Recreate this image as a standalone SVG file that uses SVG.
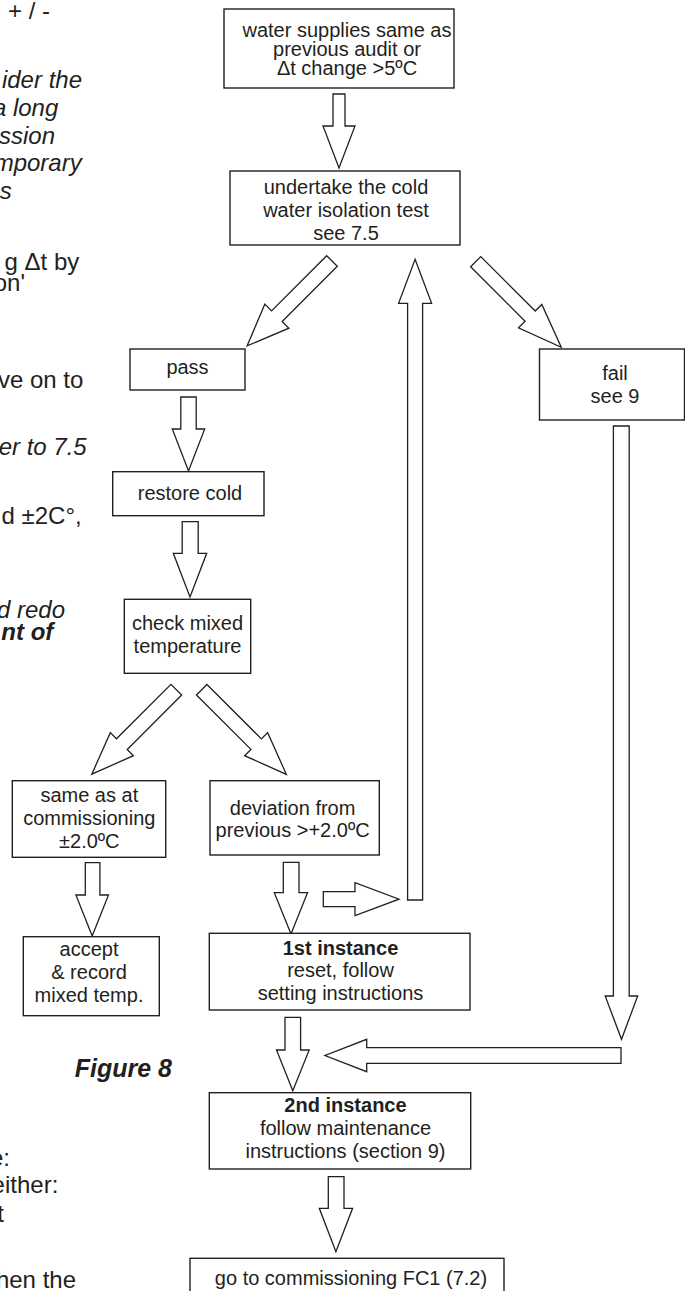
<svg xmlns="http://www.w3.org/2000/svg" width="685" height="1291" viewBox="0 0 685 1291">
<style>
.bx{fill:#fff;stroke:#231f20;stroke-width:1.4}
.ar{fill:#fff;stroke:#231f20;stroke-width:1.3}
text{font-family:"Liberation Sans",Arial,sans-serif;fill:#231f20}
.t{font-size:20px;text-anchor:middle}
.b{font-weight:bold}
.side{font-size:24px;text-anchor:end}
.i{font-style:italic}
.fig{font-size:25px;font-weight:bold;font-style:italic;text-anchor:middle}
</style>
<rect width="685" height="1291" fill="#fff"/>
<g id="side-text">
<text class="side" x="50" y="18.5">+ / -</text>
<text class="side i" x="82" y="87.5">ider the</text>
<text class="side i" x="58.3" y="115.5">a long</text>
<text class="side i" x="55" y="143.5">ssion</text>
<text class="side i" x="81.7" y="171">mporary</text>
<text class="side i" x="11.7" y="199">s</text>
<text class="side" x="79.3" y="270">g Δt by</text>
<text class="side" x="25" y="291">on'</text>
<text class="side" x="83.3" y="388.3">ve on to</text>
<text class="side i" x="86.7" y="455">er to 7.5</text>
<text class="side" x="81.7" y="524">d ±2C°,</text>
<text class="side i" x="65" y="618">d redo</text>
<text class="side i b" x="53.3" y="639.5">nt of</text>
<text class="side" x="10" y="1165.7">e:</text>
<text class="side" x="58.3" y="1193.3">either:</text>
<text class="side" x="4" y="1221.7">t</text>
<text class="side" x="76" y="1288.3">hen the</text>
<text class="fig" x="123.3" y="1077.3">Figure 8</text>
</g>
<g id="connectors">
<polygon class="ar" points="333,94 345,94 345,126 355,126 339,168 323,126 333,126"/>
<polygon class="ar" transform="translate(332,261) rotate(135)" points="0,-7.5 78,-7.5 78,-17 120,0 78,17 78,7.5 0,7.5"/>
<polygon class="ar" transform="translate(475.7,261.7) rotate(45)" points="0,-7.2 77,-7.2 77,-16.5 121,0 77,16.5 77,7.2 0,7.2"/>
<polygon class="ar" points="180.8,397 196.2,397 196.2,429 204.7,429 188.5,471 172.3,429 180.8,429"/>
<polygon class="ar" points="182.2,521.7 198.2,521.7 198.2,553.3 206.7,553.3 190,597 173.3,553.3 182.2,553.3"/>
<polygon class="ar" transform="translate(176.3,689.7) rotate(135)" points="0,-7.6 77,-7.6 77,-16.3 119.5,0 77,16.3 77,7.6 0,7.6"/>
<polygon class="ar" transform="translate(201.7,689.7) rotate(45)" points="0,-7.4 77,-7.4 77,-16.3 119.7,0 77,16.3 77,7.4 0,7.4"/>
<polygon class="ar" points="85.3,862.7 99.9,862.7 99.9,895 108.5,895 92.2,936 75.9,895 85.3,895"/>
<polygon class="ar" points="283.3,862.3 299,862.3 299,892.7 307.5,892.7 291,934 274.3,892.7 283.3,892.7"/>
<polygon class="ar" points="323.3,891.7 355,891.7 355,882.7 399,899.2 355,915.5 355,906.7 323.3,906.7"/>
<polygon class="ar" points="407.6,900 422.6,900 422.6,303.3 431.6,303.3 415.1,259.3 398.6,303.3 407.6,303.3"/>
<polygon class="ar" points="613.4,426 629.2,426 629.2,996 637.7,996 621.5,1039.3 605.2,996 613.4,996"/>
<polygon class="ar" points="621,1047.7 621,1063.3 366.7,1063.3 366.7,1071.7 325,1055.5 366.7,1039.3 366.7,1047.7"/>
<polygon class="ar" points="285,1017.3 300.6,1017.3 300.6,1050 309.2,1050 292.8,1090.7 276.5,1050 285,1050"/>
<polygon class="ar" points="328.3,1176.7 344,1176.7 344,1208.3 352.6,1208.3 335.9,1251.7 319.3,1208.3 328.3,1208.3"/>
</g>
<g id="n-water">
<rect class="bx" x="224" y="9" width="230" height="79"/>
<text class="t" x="347" y="36.5">water supplies same as</text>
<text class="t" x="347" y="55.5">previous audit or</text>
<text class="t" x="347" y="74.5">Δt change &gt;5ºC</text>
</g>
<g id="n-isolation">
<rect class="bx" x="230" y="171" width="230" height="74"/>
<text class="t" x="346" y="194">undertake the cold</text>
<text class="t" x="346" y="217">water isolation test</text>
<text class="t" x="346" y="240">see 7.5</text>
</g>
<g id="n-pass">
<rect class="bx" x="130" y="349" width="115" height="41"/>
<text class="t" x="187.5" y="374">pass</text>
</g>
<g id="n-fail">
<rect class="bx" x="539.5" y="349" width="145" height="71"/>
<text class="t" x="615" y="380">fail</text>
<text class="t" x="615" y="403">see 9</text>
</g>
<g id="n-restore">
<rect class="bx" x="112.7" y="471.7" width="151.3" height="44"/>
<text class="t" x="190" y="500">restore cold</text>
</g>
<g id="n-check">
<rect class="bx" x="124.3" y="599.3" width="126.4" height="74"/>
<text class="t" x="187.5" y="630">check mixed</text>
<text class="t" x="187.5" y="653">temperature</text>
</g>
<g id="n-same">
<rect class="bx" x="12.3" y="780.7" width="153.4" height="76.6"/>
<text class="t" x="89.3" y="801.7">same as at</text>
<text class="t" x="89.3" y="824.5">commissioning</text>
<text class="t" x="89.3" y="847.7">±2.0ºC</text>
</g>
<g id="n-deviation">
<rect class="bx" x="210" y="780.7" width="169.3" height="74.3"/>
<text class="t" x="292.6" y="815">deviation from</text>
<text class="t" x="292.6" y="837">previous &gt;+2.0ºC</text>
</g>
<g id="n-accept">
<rect class="bx" x="23.3" y="936.7" width="136" height="79"/>
<text class="t" x="89" y="956">accept</text>
<text class="t" x="89" y="979">&amp; record</text>
<text class="t" x="89" y="1002">mixed temp.</text>
</g>
<g id="n-first">
<rect class="bx" x="209.3" y="933.3" width="260.7" height="76.7"/>
<text class="t b" x="340.5" y="955">1st instance</text>
<text class="t" x="340.5" y="977">reset, follow</text>
<text class="t" x="340.5" y="1000">setting instructions</text>
</g>
<g id="n-second">
<rect class="bx" x="209.3" y="1092.7" width="261.4" height="76.3"/>
<text class="t b" x="345.5" y="1111.7">2nd instance</text>
<text class="t" x="345.5" y="1135">follow maintenance</text>
<text class="t" x="345.5" y="1158">instructions (section 9)</text>
</g>
<g id="n-goto">
<rect class="bx" x="190" y="1258.3" width="314" height="40"/>
<text class="t" x="351" y="1285">go to commissioning FC1 (7.2)</text>
</g>
</svg>
